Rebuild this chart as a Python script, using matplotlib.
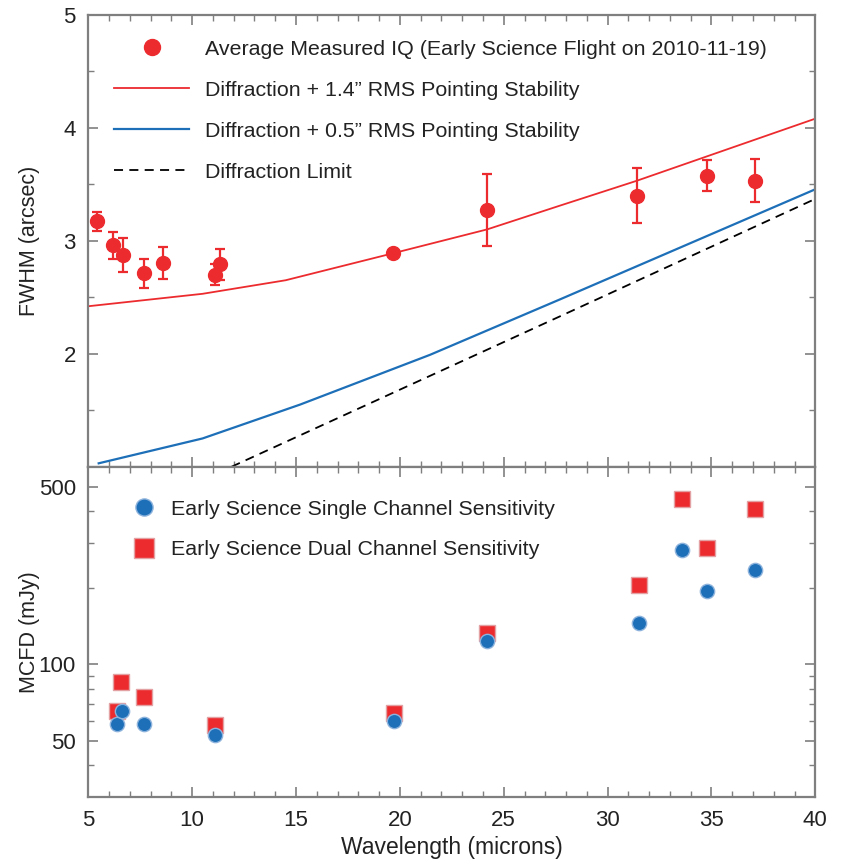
import matplotlib
matplotlib.use("Agg")
import matplotlib.pyplot as plt
from matplotlib.lines import Line2D
from matplotlib.ticker import MultipleLocator, FixedLocator, NullFormatter

plt.rcParams['font.family'] = ['Liberation Sans', 'DejaVu Sans']

# ---------------- data ----------------
# Top panel: measured image quality
lam_iq = [5.40, 6.20, 6.69, 7.70, 8.61, 11.10, 11.34, 19.69, 24.21, 31.40, 34.79, 37.10]
fwhm_iq = [3.17, 2.96, 2.87, 2.71, 2.80, 2.70, 2.79, 2.89, 3.27, 3.40, 3.575, 3.53]
fwhm_err = [0.08, 0.12, 0.15, 0.13, 0.14, 0.09, 0.14, 0.03, 0.32, 0.245, 0.135, 0.19]

# Model curves
lam_14 = [5.0, 10.5, 14.5, 19.7, 24.2, 27.7, 31.4, 40.0]
fwhm_14 = [2.42, 2.53, 2.65, 2.89, 3.10, 3.31, 3.53, 4.08]
lam_05 = [5.5, 10.5, 15.2, 21.45, 27.7, 40.0]
fwhm_05 = [1.03, 1.25, 1.55, 1.99, 2.48, 3.455]
lam_diff = [11.9, 27.7, 40.0]
fwhm_diff = [1.0, 2.33, 3.37]

# Bottom panel: sensitivities
lam_single = [6.40, 6.64, 7.70, 11.10, 19.72, 24.21, 31.5, 33.6, 34.79, 37.08]
mcfd_single = [58.2, 65.2, 58.2, 52.8, 59.9, 123.4, 145.6, 282, 194, 236]
lam_dual = [6.40, 6.56, 7.70, 11.10, 19.72, 24.21, 31.5, 33.6, 34.79, 37.08]
mcfd_dual = [65.2, 85, 74.2, 57.4, 64.2, 132.3, 206, 448, 287, 409]

lbl_iq = "Average Measured IQ (Early Science Flight on 2010-11-19)"
lbl_14 = "Diffraction + 1.4\u201d RMS Pointing Stability"
lbl_05 = "Diffraction + 0.5\u201d RMS Pointing Stability"
lbl_diff = "Diffraction Limit"
lbl_single = "Early Science Single Channel Sensitivity"
lbl_dual = "Early Science Dual Channel Sensitivity"

RED = "#ec2b2f"
BLUE = "#1d6fb8"
SPINE = "#7f7f7f"
TXT = "#222222"

W, H = 846, 860
fig = plt.figure(figsize=(W / 100, H / 100), dpi=100)
L, R = 88.3 / W, 815.3 / W
ax1 = fig.add_axes([L, 1 - 466.7 / H, R - L, (466.7 - 14.7) / H])
ax2 = fig.add_axes([L, 1 - 797 / H, R - L, (797 - 466.7) / H])

# ---- top panel ----
ax1.errorbar(lam_iq, fwhm_iq, yerr=fwhm_err, fmt='o', color=RED, ms=10,
             elinewidth=1.6, capsize=3.8, capthick=1.6, zorder=5)
l14, = ax1.plot(lam_14, fwhm_14, color=RED, lw=1.3)
l05, = ax1.plot(lam_05, fwhm_05, color=BLUE, lw=1.6)
ldf, = ax1.plot(lam_diff, fwhm_diff, color='black', lw=1.3, ls=(0, (5, 3.5)))
iq_handle = Line2D([], [], ls='none', marker='o', ms=10, color=RED)
ax1.set_xlim(5, 40)
ax1.set_ylim(1, 5)
ax1.yaxis.set_major_locator(FixedLocator([2, 3, 4, 5]))
ax1.yaxis.set_minor_locator(FixedLocator([1.5, 2.5, 3.5, 4.5]))
ax1.set_ylabel("FWHM (arcsec)", fontsize=15.5, color=TXT)
ax1.yaxis.set_label_coords(-0.066, 0.5)
ax1.xaxis.set_major_formatter(NullFormatter())

leg1 = ax1.legend([iq_handle, l14, l05, ldf], [lbl_iq, lbl_14, lbl_05, lbl_diff],
                  loc='upper left', bbox_to_anchor=(0.036, 0.945), frameon=False,
                  fontsize=15.4, handlelength=3.5, handletextpad=0.75,
                  labelspacing=1.03, borderpad=0, borderaxespad=0, markerscale=1.15)
for t in leg1.get_texts():
    t.set_color(TXT)

# ---- bottom panel ----
ax2.plot(lam_dual, mcfd_dual, ls='none', marker='s', ms=12, color=RED,
         mec="#e3a1a4", mew=1.0, label=lbl_dual, zorder=3)
ax2.plot(lam_single, mcfd_single, ls='none', marker='o', ms=10.3, color=BLUE,
         mec="#8db3dc", mew=1.0, label=lbl_single, zorder=4)
ax2.set_yscale('log')
ax2.set_xlim(5, 40)
ax2.set_ylim(30, 600)
ax2.yaxis.set_major_locator(FixedLocator([50, 100, 500]))
ax2.yaxis.set_minor_locator(FixedLocator([40, 60, 70, 80, 90, 200, 300, 400]))
ax2.yaxis.set_minor_formatter(NullFormatter())
ax2.set_yticklabels(["50", "100", "500"])
ax2.set_ylabel("MCFD (mJy)", fontsize=15.5, color=TXT)
ax2.yaxis.set_label_coords(-0.066, 0.5)
ax2.set_xlabel("Wavelength (microns)", fontsize=16.5, color=TXT, labelpad=4)

h2, l2 = ax2.get_legend_handles_labels()
order2 = [l2.index(lbl_single), l2.index(lbl_dual)]
leg2 = ax2.legend([h2[i] for i in order2], [l2[i] for i in order2], loc='upper left',
                  bbox_to_anchor=(0.062, 0.9), frameon=False, fontsize=15.4,
                  handlelength=1.0, handletextpad=0.75, labelspacing=1.0,
                  borderpad=0, borderaxespad=0, markerscale=1.2)
for t in leg2.get_texts():
    t.set_color(TXT)

for ax in (ax1, ax2):
    ax.xaxis.set_major_locator(MultipleLocator(5))
    ax.xaxis.set_minor_locator(MultipleLocator(1))
    ax.tick_params(which='both', direction='in', top=True, right=True,
                   color=SPINE, labelsize=16, labelcolor=TXT)
    ax.tick_params(which='major', length=7, width=1.2, pad=9)
    ax.tick_params(which='minor', length=4.5, width=1.0)
    for s in ax.spines.values():
        s.set_color(SPINE)
        s.set_linewidth(1.6)

fig.savefig("out.png", dpi=100)
